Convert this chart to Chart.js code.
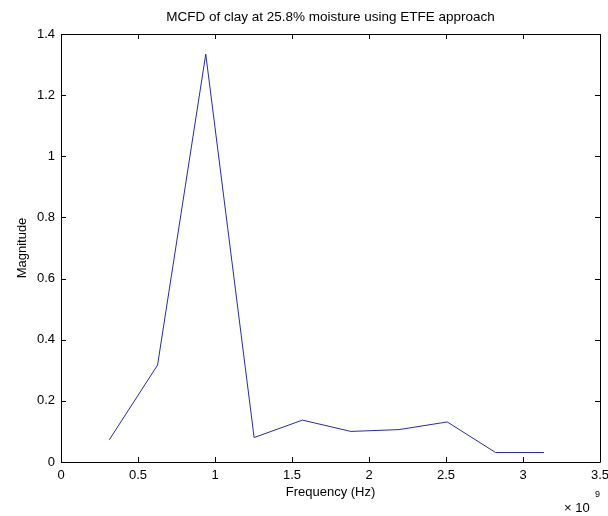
<!DOCTYPE html>
<html>
<head>
<meta charset="utf-8">
<script src="https://cdn.jsdelivr.net/npm/chart.js@4"></script>
<style>
  html, body { margin: 0; padding: 0; background: #fff; }
  #wrap { width: 608px; height: 516px; }
</style>
</head>
<body>
<div id="wrap"><canvas id="mcfdChart" width="608" height="516"></canvas></div>
<script>
// frequency (x 10^9 Hz) and magnitude
const freqGHz = [0.314, 0.627, 0.94, 1.254, 1.568, 1.882, 2.195, 2.508, 2.822, 3.136];
const magnitude = [0.073, 0.317, 1.334, 0.08, 0.137, 0.10, 0.106, 0.131, 0.031, 0.031];
const xTicks = [0, 0.5, 1, 1.5, 2, 2.5, 3, 3.5];
const yTicks = [0, 0.2, 0.4, 0.6, 0.8, 1, 1.2, 1.4];
const chartTitle = 'MCFD of clay at 25.8% moisture using ETFE approach';

const points = freqGHz.map((f, i) => ({ x: f, y: magnitude[i] }));
const FONT = 'Liberation Sans, Arial, Helvetica, sans-serif';

// MATLAB style box with inward ticks on all four sides, title over the axes, x 10^9 note
const matlabAxes = {
  id: 'matlabAxes',
  afterDraw(chart) {
    const { ctx, chartArea: a, scales } = chart;
    const len = 5;
    ctx.save();
    ctx.strokeStyle = '#000';
    ctx.lineWidth = 1;
    ctx.beginPath();
    ctx.rect(Math.round(a.left) + 0.5, Math.round(a.top) + 0.5,
             Math.round(a.right - a.left), Math.round(a.bottom - a.top));
    xTicks.forEach(v => {
      const px = Math.round(scales.x.getPixelForValue(v)) + 0.5;
      ctx.moveTo(px, a.bottom); ctx.lineTo(px, a.bottom - len);
      ctx.moveTo(px, a.top); ctx.lineTo(px, a.top + len);
    });
    yTicks.forEach(v => {
      const py = Math.round(scales.y.getPixelForValue(v)) + 0.5;
      ctx.moveTo(a.left, py); ctx.lineTo(a.left + len, py);
      ctx.moveTo(a.right, py); ctx.lineTo(a.right - len, py);
    });
    ctx.stroke();

    ctx.fillStyle = '#000';
    // title centred over the axes box
    ctx.font = '13.5px ' + FONT;
    ctx.textAlign = 'center';
    ctx.textBaseline = 'middle';
    ctx.fillText(chartTitle, (a.left + a.right) / 2, 17);

    // exponent label
    ctx.textBaseline = 'alphabetic';
    ctx.textAlign = 'left';
    ctx.font = '13px ' + FONT;
    ctx.fillText('\u00d7 10', 564, 512);
    ctx.font = '9px ' + FONT;
    ctx.fillText('9', 595, 497);
    ctx.restore();
  }
};

new Chart(document.getElementById('mcfdChart'), {
  type: 'line',
  data: {
    datasets: [{
      data: points,
      borderColor: '#2a2a9e',
      borderWidth: 1,
      pointRadius: 0,
      tension: 0,
      fill: false
    }]
  },
  options: {
    responsive: false,
    animation: false,
    layout: { padding: { left: 0, right: 8, top: 34, bottom: 0 } },
    plugins: {
      legend: { display: false },
      tooltip: { enabled: false },
      title: { display: false }
    },
    scales: {
      x: {
        type: 'linear',
        min: 0,
        max: 3.5,
        afterBuildTicks: s => { s.ticks = xTicks.map(v => ({ value: v })); },
        afterFit: s => { s.height = 54; s.paddingLeft = 0; s.paddingRight = 0; },
        grid: { display: false, drawTicks: false },
        border: { display: false },
        ticks: {
          color: '#000', padding: 6, maxRotation: 0, autoSkip: false,
          font: { family: FONT, size: 13 },
          callback: v => String(v)
        },
        title: {
          display: true,
          text: 'Frequency (Hz)',
          color: '#000',
          font: { family: FONT, size: 13 },
          padding: { top: 4, bottom: 16 }
        }
      },
      y: {
        min: 0,
        max: 1.4,
        afterBuildTicks: s => { s.ticks = yTicks.map(v => ({ value: v })); },
        afterFit: s => { s.width = 61; s.paddingTop = 0; s.paddingBottom = 0; },
        grid: { display: false, drawTicks: false },
        border: { display: false },
        ticks: {
          color: '#000', padding: 6, autoSkip: false,
          font: { family: FONT, size: 13 },
          callback: v => String(v)
        },
        title: {
          display: true,
          text: 'Magnitude',
          color: '#000',
          font: { family: FONT, size: 13 },
          padding: { top: 15, bottom: 4 }
        }
      }
    }
  },
  plugins: [matlabAxes]
});
</script>
</body>
</html>
